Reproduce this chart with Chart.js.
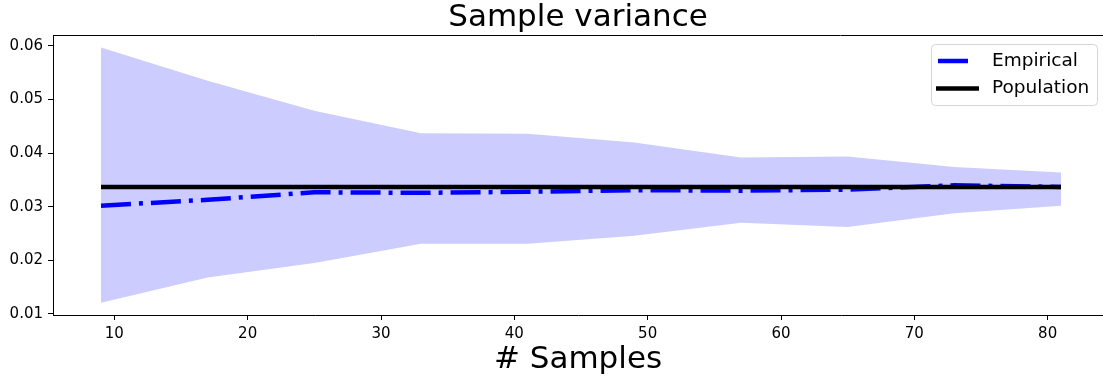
<!DOCTYPE html>
<html><head><meta charset="utf-8">
<script src="https://cdn.jsdelivr.net/npm/chart.js@4.4.0/dist/chart.umd.min.js"></script>
<style>html,body{margin:0;padding:0;background:#fff;overflow:hidden}#wrap{width:1103px;height:381px;position:relative}</style>
</head><body><div id="wrap"><canvas id="c"></canvas></div>
<script>
const samples = [9, 17, 25, 33, 41, 49, 57, 65, 73, 81];
const empirical = [0.0302, 0.0313, 0.0327, 0.0326, 0.0328, 0.0331, 0.0330, 0.0332, 0.0340, 0.0337];
const upperBand = [0.0597, 0.0535, 0.0479, 0.0437, 0.0436, 0.0420, 0.0392, 0.0394, 0.0374, 0.0364];
const lowerBand = [0.0121, 0.0168, 0.0195, 0.0231, 0.0231, 0.0246, 0.0270, 0.0262, 0.0288, 0.0302];
const population = [0.0337, 0.0337, 0.0337, 0.0337, 0.0337, 0.0337, 0.0337, 0.0337, 0.0337, 0.0337];
const xTicks = [10, 20, 30, 40, 50, 60, 70, 80];
const yTicks = [0.01, 0.02, 0.03, 0.04, 0.05, 0.06];
const titleText = 'Sample variance';
const xLabel = '# Samples';

const pts = arr => samples.map((x, i) => ({x: x, y: arr[i]}));
const FONT = "'DejaVu Sans', sans-serif";

const frame = {
  id: 'frame',
  afterDraw(chart) {
    const {ctx, chartArea: a} = chart;
    ctx.save();
    ctx.strokeStyle = '#000';
    ctx.lineWidth = 1;
    ctx.beginPath();
    ctx.moveTo(a.left, a.top + 0.5);
    ctx.lineTo(a.right, a.top + 0.5);
    ctx.stroke();
    // legend
    const items = chart.data.datasets.filter(d => d.legendOrder !== undefined)
      .sort((p, q) => p.legendOrder - q.legendOrder);
    const bx = a.right - 172, by = a.top + 9, bw = 166, bh = 61;
    ctx.beginPath();
    ctx.roundRect(bx + 0.5, by + 0.5, bw, bh, 4);
    ctx.fillStyle = 'rgba(255,255,255,0.8)';
    ctx.fill();
    ctx.strokeStyle = '#d6d6d6';
    ctx.stroke();
    items.forEach((d, i) => {
      const y = by + 17 + i * 27.5;
      ctx.beginPath();
      ctx.strokeStyle = d.borderColor;
      ctx.lineWidth = d.borderWidth;
      ctx.lineCap = 'butt';
      ctx.setLineDash(d.borderDash ? [d.borderDash[0], 100] : []);
      ctx.moveTo(bx + (d.borderDash ? 7 : 5), y);
      ctx.lineTo(bx + 48, y);
      ctx.stroke();
      ctx.setLineDash([]);
      ctx.fillStyle = '#000';
      ctx.font = '18.5px ' + FONT;
      ctx.textBaseline = 'middle';
      ctx.textAlign = 'left';
      ctx.fillText(d.label, bx + 61, y);
    });
    ctx.restore();
  }
};

new Chart(document.getElementById('c'), {
  type: 'line',
  data: {
    datasets: [
      {label: 'Population', legendOrder: 1, data: pts(population), borderColor: '#000', borderWidth: 4.5, pointRadius: 0, fill: false, borderCapStyle: 'butt'},
      {label: 'Empirical', legendOrder: 0, data: pts(empirical), borderColor: '#0000ff', borderWidth: 4.5, borderDash: [30, 8, 4, 8], pointRadius: 0, fill: false, borderCapStyle: 'butt'},
      {label: 'upper', data: pts(upperBand), borderWidth: 0, borderColor: 'rgba(0,0,0,0)', pointRadius: 0, fill: '+1', backgroundColor: 'rgba(0,0,255,0.2)'},
      {label: 'lower', data: pts(lowerBand), borderWidth: 0, borderColor: 'rgba(0,0,0,0)', pointRadius: 0, fill: false}
    ]
  },
  options: {
    responsive: true,
    maintainAspectRatio: false,
    animation: false,
    layout: {padding: {left: 0, right: 0, top: 0, bottom: 0}},
    elements: {line: {tension: 0}},
    plugins: {
      legend: {display: false},
      tooltip: {enabled: false},
      title: {display: true, fullSize: false, text: titleText, color: '#000', font: {family: FONT, size: 31, weight: 'normal', lineHeight: 1}, padding: {top: 2, bottom: 2}}
    },
    scales: {
      x: {
        type: 'linear', min: 5.4, max: 84.15,
        afterBuildTicks: s => { s.ticks = xTicks.map(v => ({value: v})); },
        afterFit: s => { s.height = 66; },
        ticks: {color: '#000', font: {family: FONT, size: 15}, padding: 5, maxRotation: 0, autoSkip: false, callback: v => String(v)},
        grid: {drawOnChartArea: false, drawTicks: true, tickLength: 5, color: '#000', tickWidth: 1},
        border: {display: true, color: '#000', width: 1},
        title: {display: true, text: xLabel, color: '#000', font: {family: FONT, size: 31, lineHeight: 1}, padding: {top: 0, bottom: 6}}
      },
      y: {
        min: 0.0098, max: 0.06205,
        afterBuildTicks: s => { s.ticks = yTicks.map(v => ({value: v})); },
        afterFit: s => { s.width = 53; },
        ticks: {color: '#000', font: {family: FONT, size: 15}, padding: 5, autoSkip: false, callback: v => v.toFixed(2)},
        grid: {drawOnChartArea: false, drawTicks: true, tickLength: 5, color: '#000', tickWidth: 1},
        border: {display: true, color: '#000', width: 1}
      }
    }
  },
  plugins: [frame]
});
</script></body></html>
